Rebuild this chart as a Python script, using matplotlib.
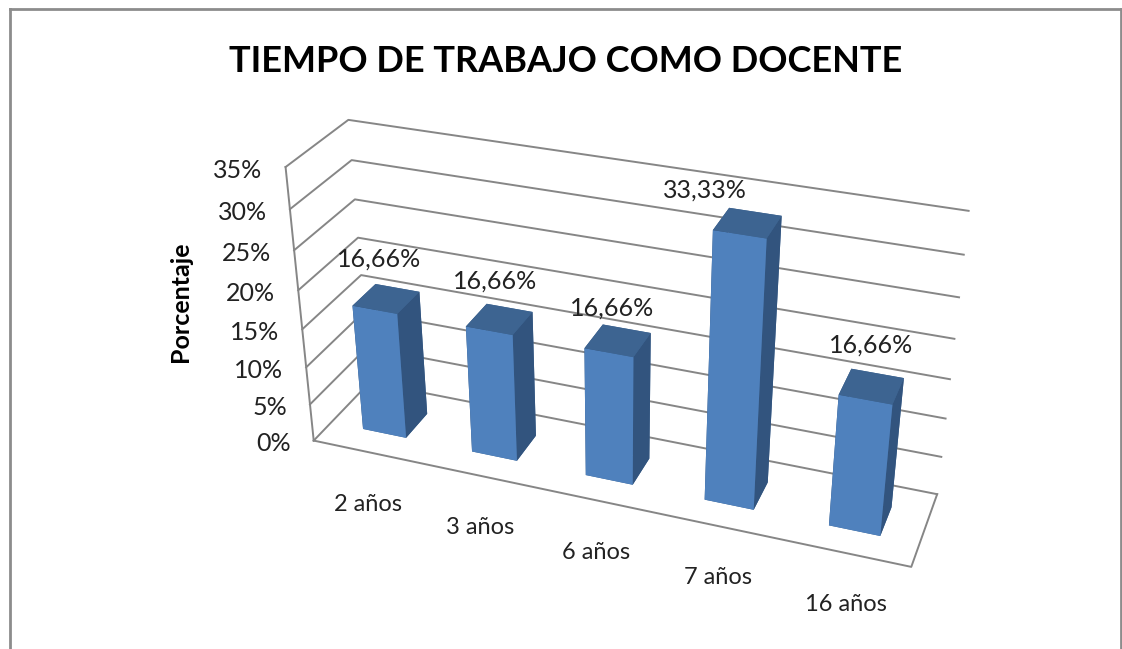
import numpy as np
import matplotlib
matplotlib.use('Agg')
import matplotlib.pyplot as plt
from matplotlib.lines import Line2D
from mpl_toolkits.mplot3d import proj3d

categories = ['2 años', '3 años', '6 años', '7 años', '16 años']
values = [16.66, 16.66, 16.66, 33.33, 16.66]
value_labels = ['16,66%', '16,66%', '16,66%', '33,33%', '16,66%']
z_ticks = [0, 5, 10, 15, 20, 25, 30, 35]
label_dx = [-7, -4, -6, -43, 0]
label_dy = [40, 38, 32, 33, 41]

W, H = 1122, 649
fig = plt.figure(figsize=(W/100, H/100), dpi=100)
ax = fig.add_axes([0, 0, 1, 1], projection='3d')
ax.set_xlim(0, 5); ax.set_ylim(0, 1); ax.set_zlim(0, 35)

# camera fitted to the reference's box
ax.view_init(29.2422, -69.8935, -0.0275)
ax.set_proj_type('persp', focal_length=float(np.exp(-0.8113)))
ax.set_box_aspect((1, 0.2011, 0.4927))
s, c, d = 3841.12, 617.87, 333.89
x0, x1 = ax.viewLim.intervalx
y0, y1 = ax.viewLim.intervaly
ax.set_position([(c + s*x0)/W, 1 - (d - s*y0)/H, s*(x1-x0)/W, s*(y1-y0)/H])
ax.set_axis_off()
ax.patch.set_alpha(0)
ax.computed_zorder = False
M = ax.get_proj()

grid = '#868686'
for z in z_ticks:
    ax.plot([0, 0, 5], [0, 1, 1], [z, z, z], color=grid, lw=1.4, zorder=1, clip_on=False)
ax.plot([0, 0], [0, 0], [0, 35], color=grid, lw=1.4, zorder=1, clip_on=False)
ax.plot([0, 5, 5], [0, 0, 1], [0, 0, 0], color=grid, lw=1.4, zorder=1, clip_on=False)

n = len(values)
bw, by0, bd = 0.4, 0.3, 0.4
xs = np.arange(n) + 0.5 - bw/2
faces = ['#3d6491', '#3d6491', '#4f81bd', '#3d6491', '#32547e', '#32547e'] * n
ax.bar3d(xs, [by0]*n, [0]*n, [bw]*n, [bd]*n, values, color=faces, shade=False, linewidth=0, zorder=2)

def anno(x, y, z, text, dx, dy, **kw):
    X, Y, _ = proj3d.proj_transform(x, y, z, M)
    ax.annotate(text, xy=(X, Y), xycoords='data', xytext=(dx, dy), textcoords='offset pixels',
                ha='center', va='center', annotation_clip=False, **kw)

font = 'Lato'
ink = '#222222'
for z in z_ticks:
    X, Y, _ = proj3d.proj_transform(0, 0, z, M)
    ax.annotate(f'{z}%', xy=(X, Y), xytext=(-23, -3), textcoords='offset pixels', ha='right', va='center',
                fontsize=18, color=ink, family=font, annotation_clip=False)
for i, (v, t) in enumerate(zip(values, value_labels)):
    anno(i + 0.5, 0.5, v, t, label_dx[i], label_dy[i], fontsize=18, color=ink, family=font)
for i, t in enumerate(categories):
    anno(i + 0.5, 0, 0, t, 0.5, -52, fontsize=17, color=ink, family=font)

fig.text(566/W, 1 - 61.5/H, 'TIEMPO DE TRABAJO COMO DOCENTE', ha='center', va='center', fontsize=26,
         fontweight='bold', family=font, color='black')
fig.text(180/W, 1 - 302/H, 'Porcentaje', rotation=90, ha='center', va='center', fontsize=18,
         fontweight='bold', family=font, color='black')

frame = '#8c8c8c'
for (a, b), (e, f) in [((10, 10), (9, H)), ((10, 1121), (9, 9)), ((1121, 1121), (9, H))]:
    fig.add_artist(Line2D([a/W, b/W], [1-e/H, 1-f/H], color=frame, lw=2))

fig.savefig('out.png', dpi=100)
